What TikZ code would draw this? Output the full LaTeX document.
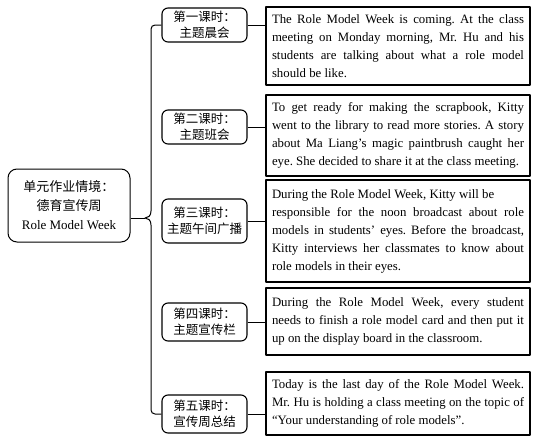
\documentclass[tikz,border=0pt]{standalone}
\usepackage{fontspec}
\setmainfont{Liberation Serif}
\newfontfamily\cjk{Noto Sans CJK SC}
\usetikzlibrary{positioning,calc}
\frenchspacing
\tikzset{%
       hubbox/.style = { draw, line width=1pt, rounded corners=9pt, minimum width=122pt, minimum height=73pt, align=center, inner sep=2pt, font=\fontsize{13}{19}\selectfont },
    lessonbox/.style = { draw, line width=1.1pt, rounded corners=6pt, minimum width=85pt, minimum height=34pt, align=center, inner sep=2pt, font=\cjk\fontsize{12.5}{16}\selectfont },
     scenebox/.style = { draw, line width=1.4pt, text width=252pt, inner xsep=6pt, align=justify, font=\fontsize{12.8}{18}\selectfont },
         link/.style = { line width=1pt }
}
\begin{document}
\begin{tikzpicture}[x=1pt,y=-1pt,line join=round]
\useasboundingbox (0,0) rectangle (533,437);
% unit theme
\node[hubbox] (unit) at (69,205.5) {{\cjk 单元作业情境：}\\{\cjk 德育宣传周}\\Role Model Week};
% lessons
\node[lessonbox] (k1) at (204.5,25) {第一课时：\\主题晨会};
\node[lessonbox] (k2) at (204.5,127) {第二课时：\\主题班会};
\node[lessonbox,minimum height=44pt] (k3) at (204.5,221) {第三课时：\\主题午间广播};
\node[lessonbox,minimum height=38pt] (k4) at (204.5,322) {第四课时：\\主题宣传栏};
\node[lessonbox,minimum height=38pt] (k5) at (204.5,414) {第五课时：\\宣传周总结};
% scenes
\node[scenebox,minimum height=78pt] (s1) at (398,46) {The Role Model Week is coming. At the class\linebreak meeting on Monday morning, Mr. Hu and his\linebreak students are talking about what a role model\linebreak should be like.};
\node[scenebox,minimum height=81pt] (s2) at (398,135.5) {To get ready for making the scrapbook, Kitty\linebreak went to the library to read more stories. A story\linebreak about Ma Liang’s magic paintbrush caught her\linebreak eye. She decided to share it at the class meeting.};
\node[scenebox,minimum height=102pt] (s3) at (398,231) {During the Role Model Week, Kitty will be\newline responsible for the noon broadcast about role\linebreak models in students’ eyes. Before the broadcast,\linebreak Kitty interviews her classmates to know about\linebreak role models in their eyes.};
\node[scenebox,minimum height=67pt] (s4) at (398,321.5) {During the Role Model Week, every student\linebreak needs to finish a role model card and then put it\linebreak up on the display board in the classroom.};
\node[scenebox,minimum height=63pt] (s5) at (398,403.5) {Today is the last day of the Role Model Week.\linebreak Mr. Hu is holding a class meeting on the topic of\linebreak “Your understanding of role models”.};
% brace
\coordinate (bx) at (151,0);
\coordinate (tip) at (145,218);
\draw[link,rounded corners=4pt] (k1.west) -- (k1.west -| bx) -- (151,211);
\draw[link] (151,211) .. controls (151,216) and (148,218) .. (tip) .. controls (148,218) and (151,220) .. (151,225);
\draw[link,rounded corners=4pt] (151,225) -- (k5.west -| bx) -- (k5.west);
\draw[link] (unit.east |- tip) -- (tip);
% links
\foreach \i in {1,...,5}
  \draw[link] (k\i.east) -- (k\i.east -| s\i.west);
\end{tikzpicture}
\end{document}
